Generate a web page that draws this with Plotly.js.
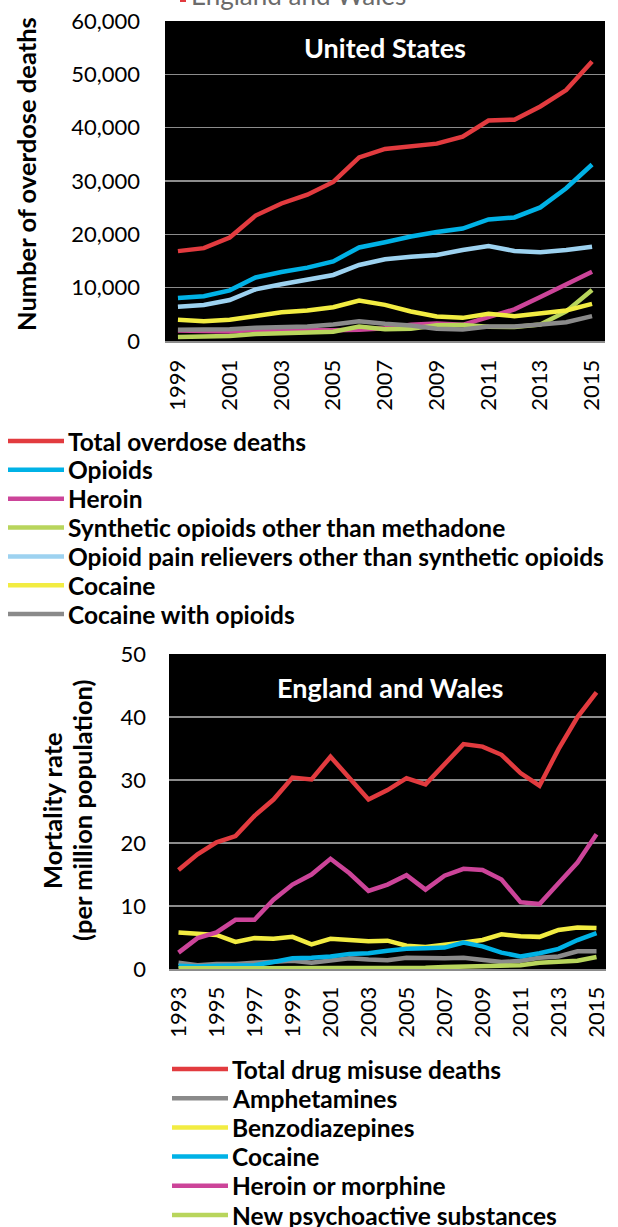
<!DOCTYPE html>
<html>
<head>
<meta charset="utf-8">
<script src="https://cdn.plot.ly/plotly-3.0.1.min.js"></script>
<style>
  html, body { margin: 0; padding: 0; background: #ffffff; }
  #chart { width: 618px; height: 1227px; }
</style>
</head>
<body>
<div id="chart"></div>
<script>
// ---------- United States data ----------
const usYears = ['1999','2000','2001','2002','2003','2004','2005','2006','2007','2008','2009','2010','2011','2012','2013','2014','2015'];
const usTickLabels = ['1999','2001','2003','2005','2007','2009','2011','2013','2015'];
const usNames = ['Total overdose deaths','Opioids','Heroin','Synthetic opioids other than methadone','Opioid pain relievers other than synthetic opioids','Cocaine','Cocaine with opioids'];
const usTotal = [16849,17415,19394,23518,25785,27424,29813,34425,36010,36450,37004,38329,41340,41502,43982,47055,52404];
const usOpioids = [8050,8407,9496,11920,12940,13756,14918,17545,18516,19582,20422,21089,22784,23166,25052,28647,33091];
const usHeroin = [1960,1842,1779,2089,2080,1878,2009,2088,2399,3041,3278,3036,4397,5925,8257,10574,12989];
const usSynthetic = [730,782,957,1295,1400,1664,1742,2707,2213,2306,2946,3007,2666,2628,3105,5544,9580];
const usPainRelievers = [6440,6750,7690,9690,10630,11440,12380,14250,15310,15810,16130,17060,17810,16880,16630,17060,17690];
const usCocaine = [3970,3720,3970,4780,5410,5720,6340,7590,6780,5530,4590,4340,5090,4660,5280,5720,6970];
const usCocaineOpioids = [2090,2090,2220,2470,2590,2720,3090,3720,3220,2910,2280,2160,2720,2720,3090,3530,4660];

// ---------- England and Wales data ----------
const ewYears = ['1993','1994','1995','1996','1997','1998','1999','2000','2001','2002','2003','2004','2005','2006','2007','2008','2009','2010','2011','2012','2013','2014','2015'];
const ewTickLabels = ['1993','1995','1997','1999','2001','2003','2005','2007','2009','2011','2013','2015'];
const ewNames = ['Total drug misuse deaths','Amphetamines','Benzodiazepines','Cocaine','Heroin or morphine','New psychoactive substances'];
const ewTotal = [15.7,18.2,20.1,21.1,24.3,26.9,30.4,30.1,33.7,30.4,26.9,28.4,30.3,29.3,32.5,35.7,35.3,34.0,31.1,29.1,34.9,40.0,43.9];
const ewAmphetamines = [1.0,0.6,0.8,0.8,1.0,1.1,1.3,1.0,1.3,1.7,1.5,1.4,1.8,1.7,1.7,1.8,1.4,1.1,1.3,1.8,2.0,2.8,2.8];
const ewBenzodiazepines = [5.8,5.6,5.4,4.3,4.9,4.8,5.1,3.9,4.8,4.6,4.4,4.5,3.7,3.5,3.8,4.2,4.6,5.5,5.2,5.1,6.2,6.6,6.5];
const ewCocaine = [0.5,0.4,0.5,0.5,0.6,1.1,1.7,1.8,2.0,2.4,2.5,2.9,3.2,3.3,3.4,4.2,3.6,2.6,2.0,2.5,3.2,4.6,5.7];
const ewHeroin = [2.6,4.9,5.8,7.8,7.8,11.0,13.4,15.0,17.5,15.2,12.4,13.4,14.9,12.6,14.8,15.9,15.7,14.2,10.6,10.3,13.6,16.9,21.4];
const ewNPS = [0.1,0.1,0.1,0.1,0.1,0.2,0.2,0.2,0.2,0.2,0.2,0.2,0.2,0.2,0.3,0.4,0.5,0.5,0.6,1.0,1.1,1.3,1.9];

// ---------- styles ----------
const RED = '#E23B3F', BLUE = '#00B2E6', MAGENTA = '#CC4499', GREEN = '#B8D55C',
      LIGHTBLUE = '#9DD2F0', YELLOW = '#F2EC42', GRAY = '#8A8A8A';
const usColors = [RED, BLUE, MAGENTA, GREEN, LIGHTBLUE, YELLOW, GRAY];
const ewColors = [RED, GRAY, YELLOW, BLUE, MAGENTA, GREEN];
const usSeries = [usTotal, usOpioids, usHeroin, usSynthetic, usPainRelievers, usCocaine, usCocaineOpioids];
const ewSeries = [ewTotal, ewAmphetamines, ewBenzodiazepines, ewCocaine, ewHeroin, ewNPS];

const W = 618, H = 1227;
const px = x => x / W;
const py = y => 1 - y / H;
const FONT = 'Lato, "Open Sans", sans-serif';
const LW = 4.5;

const traces = [];
usSeries.forEach((s, i) => traces.push({
  type: 'scatter', mode: 'lines', x: usYears, y: s, name: usNames[i],
  xaxis: 'x', yaxis: 'y', line: { color: usColors[i], width: LW }, showlegend: false
}));
ewSeries.forEach((s, i) => traces.push({
  type: 'scatter', mode: 'lines', x: ewYears, y: s, name: ewNames[i],
  xaxis: 'x2', yaxis: 'y2', line: { color: ewColors[i], width: LW }, showlegend: false
}));

const shapes = [];
const annotations = [];
const LEG = 24.5;

// manual legends
usNames.forEach((n, i) => {
  const yc = 441 + i * 28.85;
  shapes.push({ type: 'line', xref: 'paper', yref: 'paper', x0: px(8), x1: px(64), y0: py(yc), y1: py(yc),
    line: { color: usColors[i], width: LW } });
  annotations.push({ xref: 'paper', yref: 'paper', x: px(67), y: py(yc), xanchor: 'left', yanchor: 'middle',
    text: '<b>' + n + '</b>', showarrow: false, font: { family: FONT, size: LEG, color: '#000' }, borderpad: 0 });
});
ewNames.forEach((n, i) => {
  const yc = 1069 + i * 29.2;
  shapes.push({ type: 'line', xref: 'paper', yref: 'paper', x0: px(172), x1: px(228), y0: py(yc), y1: py(yc),
    line: { color: ewColors[i], width: LW } });
  annotations.push({ xref: 'paper', yref: 'paper', x: px(231), y: py(yc), xanchor: 'left', yanchor: 'middle',
    text: '<b>' + n + '</b>', showarrow: false, font: { family: FONT, size: LEG, color: '#000' }, borderpad: 0 });
});

// chart titles inside plot areas
annotations.push({ xref: 'paper', yref: 'paper', x: px(385), y: py(48), xanchor: 'center', yanchor: 'middle',
  text: '<b>United States</b>', showarrow: false, font: { family: FONT, size: 27, color: '#fff' } });
annotations.push({ xref: 'paper', yref: 'paper', x: px(390), y: py(687), xanchor: 'center', yanchor: 'middle',
  text: '<b>England and Wales</b>', showarrow: false, font: { family: FONT, size: 27, color: '#fff' } });

// y axis titles
annotations.push({ xref: 'paper', yref: 'paper', x: px(26), y: py(174), xanchor: 'center', yanchor: 'middle',
  textangle: -90, text: '<b>Number of overdose deaths</b>', showarrow: false,
  font: { family: FONT, size: 25.5, color: '#000' } });
annotations.push({ xref: 'paper', yref: 'paper', x: px(52), y: py(811), xanchor: 'center', yanchor: 'middle',
  textangle: -90, text: '<b>Mortality rate</b>', showarrow: false,
  font: { family: FONT, size: 25.5, color: '#000' } });
annotations.push({ xref: 'paper', yref: 'paper', x: px(82), y: py(810), xanchor: 'center', yanchor: 'middle',
  textangle: -90, text: '<b>(per million population)</b>', showarrow: false,
  font: { family: FONT, size: 25.5, color: '#000' } });

// clipped leftover text at the very top
annotations.push({ xref: 'paper', yref: 'paper', x: px(190), y: py(12), xanchor: 'left', yanchor: 'bottom',
  text: 'England and Wales', showarrow: false, borderpad: 0, font: { family: FONT, size: 26, color: '#6b6b6b' } });
shapes.push({ type: 'line', xref: 'paper', yref: 'paper', x0: px(180), x1: px(186), y0: py(0), y1: py(0),
  line: { color: RED, width: 4 } });

const tickFont = { family: FONT, size: 22, color: '#000' };
const layout = {
  width: W, height: H,
  margin: { l: 0, r: 0, t: 0, b: 0 },
  paper_bgcolor: '#ffffff', plot_bgcolor: '#000000',
  showlegend: false,
  xaxis: {
    domain: [px(165), px(605)], anchor: 'y', type: 'category', range: [-0.5, usYears.length - 0.5],
    tickmode: 'array', tickvals: usTickLabels, ticktext: usTickLabels, tickangle: -90,
    tickfont: tickFont, showgrid: false, zeroline: false, showline: true, linecolor: '#8c8c8c', linewidth: 2,
    ticks: '', ticklabelstandoff: 8, fixedrange: true
  },
  yaxis: {
    domain: [py(341), py(21)], anchor: 'x', range: [0, 60000], dtick: 10000, tickformat: ',',
    tickfont: tickFont, showgrid: true, gridcolor: '#8c8c8c', gridwidth: 1.5, zeroline: false,
    showline: false, ticks: '', ticklabelstandoff: 24, fixedrange: true
  },
  xaxis2: {
    domain: [px(169), px(606)], anchor: 'y2', type: 'category', range: [-0.5, ewYears.length - 0.5],
    tickmode: 'array', tickvals: ewTickLabels, ticktext: ewTickLabels, tickangle: -90,
    tickfont: tickFont, showgrid: false, zeroline: false, showline: true, linecolor: '#8c8c8c', linewidth: 2,
    ticks: '', ticklabelstandoff: 7, fixedrange: true
  },
  yaxis2: {
    domain: [py(969), py(654)], anchor: 'x2', range: [0, 50], dtick: 10,
    tickfont: tickFont, showgrid: true, gridcolor: '#8c8c8c', gridwidth: 1.5, zeroline: false,
    showline: false, ticks: '', ticklabelstandoff: 22, fixedrange: true
  },
  shapes: shapes,
  annotations: annotations
};

Plotly.newPlot('chart', traces, layout, { staticPlot: true, displayModeBar: false });
</script>
</body>
</html>
